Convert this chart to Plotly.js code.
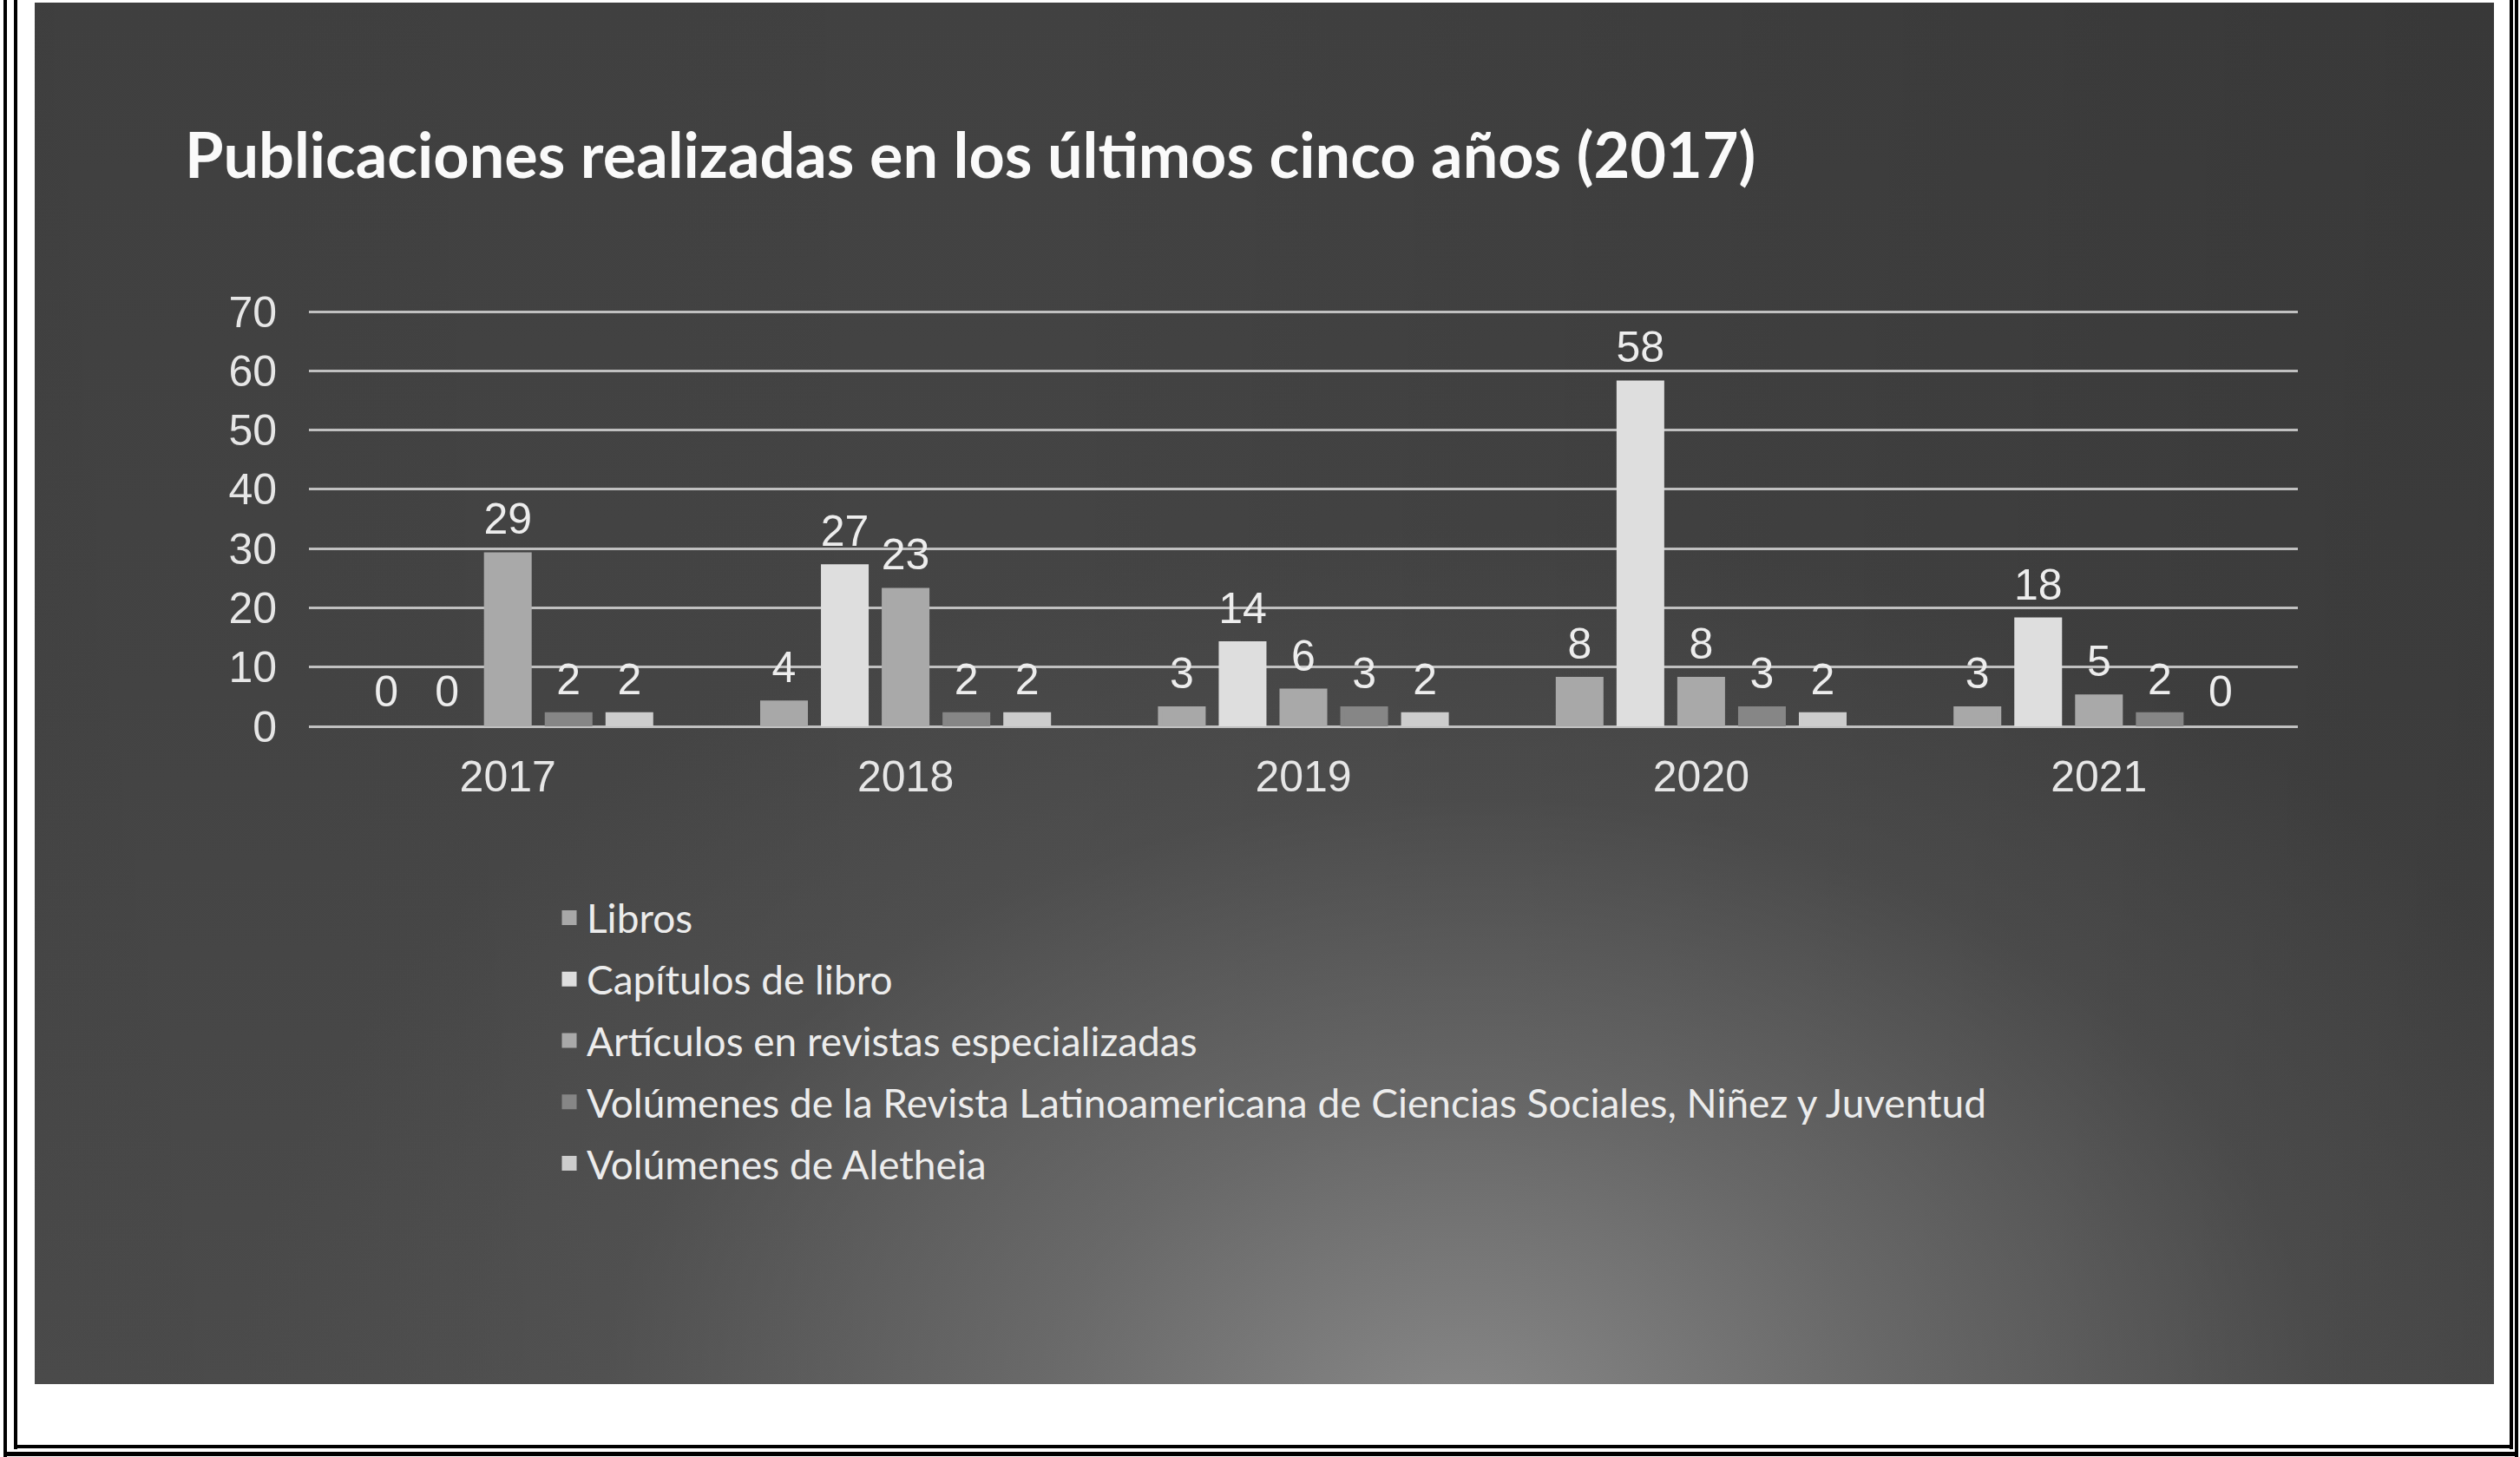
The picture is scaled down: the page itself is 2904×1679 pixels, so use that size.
<!DOCTYPE html>
<html>
<head>
<meta charset="utf-8">
<script src="https://cdn.plot.ly/plotly-3.0.1.min.js"></script>
<style>
  html, body { margin:0; padding:0; background:#ffffff; width:2904px; height:1679px; overflow:hidden; }
  #chart {
    position:absolute; left:40px; top:3px; width:2834px; height:1592px;
    background:
      radial-gradient(ellipse 50% 65% at 58% 103%, rgba(136,136,136,1) 0%, rgba(112,112,112,0.8) 35%, rgba(90,90,90,0.35) 70%, rgba(80,80,80,0) 100%),
      linear-gradient(to right, rgba(0,0,0,0.04) 0%, rgba(0,0,0,0) 40%, rgba(0,0,0,0.14) 100%),
      linear-gradient(to bottom, #414141 0%, #454545 50%, #4d4d4d 100%);
  }
  .ln { position:absolute; background:#000; }
</style>
</head>
<body>
<div class="ln" style="left:4px;top:0;width:4px;height:1679px;"></div>
<div class="ln" style="left:16px;top:0;width:4px;height:1670px;"></div>
<div class="ln" style="left:2892px;top:0;width:4px;height:1670px;"></div>
<div class="ln" style="left:2898px;top:0;width:4px;height:1679px;"></div>
<div class="ln" style="left:16px;top:1665px;width:2880px;height:4px;"></div>
<div class="ln" style="left:4px;top:1673px;width:2898px;height:5px;"></div>
<div id="chart"></div>
<script>
const years = ['2017', '2018', '2019', '2020', '2021'];
const seriesNames = [
  'Libros',
  'Capítulos de libro',
  'Artículos en revistas especializadas',
  'Volúmenes de la Revista Latinoamericana de Ciencias Sociales, Niñez y Juventud',
  'Volúmenes de Aletheia'
];
const libros = [0, 4, 3, 8, 3];
const capitulos = [0, 27, 14, 58, 18];
const articulos = [29, 23, 6, 8, 5];
const volRevista = [2, 2, 3, 3, 2];
const volAletheia = [2, 2, 2, 2, 0];
const seriesColors = ['#a8a8a8', '#dedede', '#a9a9a9', '#868686', '#cdcdcd'];

const allSeries = [libros, capitulos, articulos, volRevista, volAletheia];
const GAP = 0.236;

const W = 2834, H = 1592;
const M = { l: 316, r: 226, t: 354, b: 758 };
const PW = W - M.l - M.r, PH = H - M.t - M.b;

const traces = [];
allSeries.forEach((vals, i) => {
  traces.push({
    type: 'bar', x: years, y: vals.map(v => (v === 0 ? null : v)), name: seriesNames[i],
    marker: { color: seriesColors[i], line: { color: seriesColors[i], width: 5 } },
    legendgroup: 'g' + i,
    hoverinfo: 'skip'
  });
});
allSeries.forEach((vals, i) => {
  traces.push({
    type: 'scatter', mode: 'markers+text', x: years, y: vals,
    text: vals.map(String), textposition: 'top center',
    textfont: { family: 'Liberation Sans, Arial, sans-serif', size: 50, color: '#ededed' },
    marker: { size: 16, color: 'rgba(0,0,0,0)' },
    showlegend: false, hoverinfo: 'skip', cliponaxis: false
  });
});

const layout = {
  width: W, height: H,
  paper_bgcolor: 'rgba(0,0,0,0)', plot_bgcolor: 'rgba(0,0,0,0)',
  margin: M,
  barmode: 'group', bargap: GAP, bargroupgap: 0.286,
  scattermode: 'group', scattergap: GAP,
  title: {
    text: '<b>Publicaciones realizadas en los últimos cinco años (2017)</b>',
    font: { family: 'Lato, sans-serif', size: 72, color: '#fafafa' },
    xref: 'container', yref: 'container', x: 173 / W, xanchor: 'left',
    y: 1 - 177 / H, yanchor: 'middle'
  },
  xaxis: {
    type: 'category', showgrid: false, zeroline: false, showline: false, ticks: '',
    tickangle: 0,
    tickfont: { family: 'Liberation Sans, Arial, sans-serif', size: 50, color: '#e6e6e6' },
    ticklabelstandoff: 24
  },
  yaxis: {
    range: [0, 70.3], tickvals: [0, 10, 20, 30, 40, 50, 60, 70],
    showgrid: true, gridcolor: '#c0c0c0', gridwidth: 3,
    zeroline: true, zerolinecolor: '#c0c0c0', zerolinewidth: 3, showline: false, ticks: '',
    tickfont: { family: 'Liberation Sans, Arial, sans-serif', size: 50, color: '#e6e6e6' },
    ticklabelstandoff: 36
  },
  showlegend: true,
  legend: {
    orientation: 'v', traceorder: 'grouped', tracegroupgap: 8,
    xref: 'paper', yref: 'paper', x: (596 - M.l) / PW, xanchor: 'left',
    y: (H - M.b - 1018) / PH, yanchor: 'top',
    bgcolor: 'rgba(0,0,0,0)',
    font: { family: 'Lato, sans-serif', size: 46, color: '#ececec' }
  }
};

Plotly.newPlot('chart', traces, layout, { displayModeBar: false, staticPlot: true });
</script>
</body>
</html>
